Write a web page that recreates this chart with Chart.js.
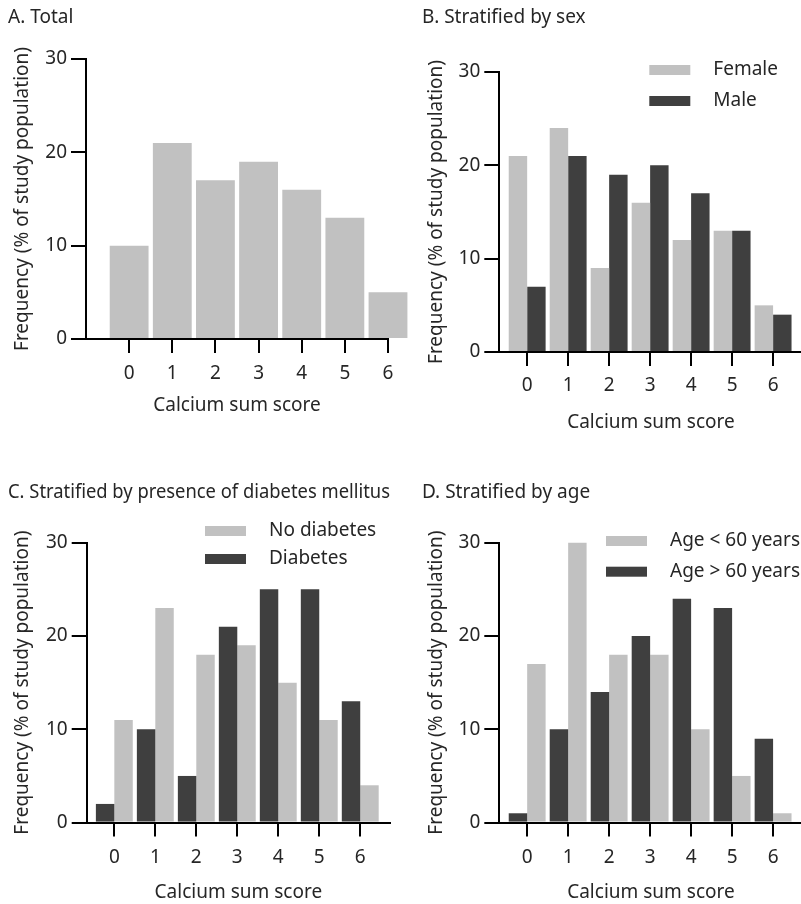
<!DOCTYPE html>
<html>
<head>
<meta charset="utf-8">
<script src="https://cdn.jsdelivr.net/npm/chart.js@4.4.1/dist/chart.umd.min.js"></script>
<style>
  html, body { margin: 0; padding: 0; background: #fff; overflow: hidden; }
  body { width: 801px; height: 904px; position: relative; }
  canvas { position: absolute; }
</style>
</head>
<body>
<canvas id="chartA" width="410" height="440" style="left:0;top:0"></canvas>
<canvas id="chartB" width="410" height="440" style="left:400px;top:0"></canvas>
<canvas id="chartC" width="410" height="434" style="left:0;top:470px"></canvas>
<canvas id="chartD" width="410" height="434" style="left:400px;top:470px"></canvas>
<script>
// calcium sum score categories and tick values
const scores = [0, 1, 2, 3, 4, 5, 6];
const yTicks = [0, 10, 20, 30];

// % of study population per score
const totalPct = [10, 21, 17, 19, 16, 13, 5];
const femalePct = [21, 24, 9, 16, 12, 13, 5];
const malePct = [7, 21, 19, 20, 17, 13, 4];
const noDiabetesPct = [11, 23, 18, 19, 15, 11, 4];
const diabetesPct = [2, 10, 5, 21, 25, 25, 13];
const under60Pct = [17, 30, 18, 18, 10, 5, 1];
const over60Pct = [1, 10, 14, 20, 24, 23, 9];

const LIGHT = '#c1c1c1';
const DARK = '#3f3f3f';
const INK = '#262626';
const FONT = "'Noto Sans', sans-serif";
const FS = 19;
const LH = FS * 1.2;

Chart.defaults.font.family = FONT;
Chart.defaults.font.size = FS;
Chart.defaults.color = INK;
Chart.defaults.animation = false;

// legend drawn inside the plot area (top right), like the original figure
const insideLegend = {
  id: 'insideLegend',
  afterDatasetsDraw(chart, args, opts) {
    if (!opts || !opts.order) return;
    const ctx = chart.ctx;
    const area = chart.chartArea;
    ctx.save();
    ctx.font = FS + 'px ' + FONT;
    ctx.textBaseline = 'middle';
    ctx.textAlign = 'left';
    opts.order.forEach((di, row) => {
      const ds = chart.data.datasets[di];
      const x = area.left + opts.x;
      const y = area.top + opts.y + row * opts.gap;
      ctx.fillStyle = ds.backgroundColor;
      ctx.fillRect(x, y - 5, 41, 10);
      ctx.fillStyle = INK;
      ctx.fillText(ds.label, x + 64, y);
    });
    ctx.restore();
  }
};

function makeChart(id, p, datasets, legend) {
  const tickPad = p.tickY - p.bottom - 14 - LH / 2 + 1;
  const titleTop = p.titleY - LH / 2 + 1;
  const xScaleH = p.axisTitleY + 1 + LH / 2 - p.bottom;

  return new Chart(document.getElementById(id), {
    type: 'bar',
    data: { labels: scores, datasets: datasets },
    plugins: legend ? [insideLegend] : [],
    options: {
      responsive: false,
      layout: {
        padding: { left: p.padL, top: 0, right: p.w - p.right, bottom: Math.max(0, p.h - p.bottom - xScaleH) }
      },
      datasets: {
        bar: { categoryPercentage: 0.9, barPercentage: 1, borderWidth: 0, clip: false }
      },
      plugins: {
        legend: { display: false },
        tooltip: { enabled: false },
        title: {
          display: true,
          text: p.title,
          align: 'start',
          color: INK,
          font: { size: FS, weight: 'normal' },
          padding: { top: titleTop, bottom: p.top - titleTop - LH }
        },
        insideLegend: legend || {}
      },
      scales: {
        x: {
          type: 'linear',
          min: p.xmin,
          max: p.xmax,
          offset: false,
          z: 1,
          afterBuildTicks: s => { s.ticks = scores.map(v => ({ value: v })); },
          afterFit: s => { s.height = xScaleH; },
          grid: { display: true, offset: false, drawOnChartArea: false, drawTicks: true, tickLength: 14, color: '#000', lineWidth: 2 },
          border: { display: true, color: '#000', width: 2 },
          ticks: { padding: tickPad, autoSkip: false, maxRotation: 0 },
          title: { display: true, text: 'Calcium sum score', padding: 0, color: INK }
        },
        y: {
          min: 0,
          max: 30,
          z: 1,
          afterBuildTicks: s => { s.ticks = yTicks.map(v => ({ value: v })); },
          afterFit: s => { s.width = p.left - p.padL; },
          grid: { display: true, drawOnChartArea: false, drawTicks: true, tickLength: 15, color: '#000', lineWidth: 2 },
          border: { display: true, color: '#000', width: 2 },
          ticks: { padding: 4 },
          title: { display: true, text: 'Frequency (% of study population)', padding: { top: 3, bottom: 0 }, color: INK }
        }
      }
    }
  });
}

makeChart('chartA',
  { title: 'A. Total', w: 410, h: 440, padL: 8, left: 86, top: 59, bottom: 339, right: 388,
    titleY: 17, tickY: 373, axisTitleY: 405, xmin: -1, xmax: 6 },
  [{ label: 'Total', data: totalPct, backgroundColor: LIGHT }]);

makeChart('chartB',
  { title: 'B. Stratified by sex', w: 410, h: 440, padL: 22, left: 99.3, top: 72, bottom: 352, right: 402.6,
    titleY: 17, tickY: 385, axisTitleY: 421.7, xmin: -0.68, xmax: 6.72 },
  [{ label: 'Female', data: femalePct, backgroundColor: LIGHT },
   { label: 'Male', data: malePct, backgroundColor: DARK }],
  { order: [0, 1], x: 150, y: -2, gap: 31 });

makeChart('chartC',
  { title: 'C. Stratified by presence of diabetes mellitus', w: 410, h: 434, padL: 8, left: 86.7, top: 72.7, bottom: 352.7, right: 390,
    titleY: 22, tickY: 386.7, axisTitleY: 421.7, xmin: -0.674, xmax: 6.726 },
  [{ label: 'Diabetes', data: diabetesPct, backgroundColor: DARK },
   { label: 'No diabetes', data: noDiabetesPct, backgroundColor: LIGHT }],
  { order: [1, 0], x: 118.3, y: -11.7, gap: 28 });

makeChart('chartD',
  { title: 'D. Stratified by age', w: 410, h: 434, padL: 22, left: 99.3, top: 72.7, bottom: 352.7, right: 402.6,
    titleY: 22, tickY: 386.7, axisTitleY: 421.7, xmin: -0.68, xmax: 6.72 },
  [{ label: 'Age > 60 years', data: over60Pct, backgroundColor: DARK },
   { label: 'Age < 60 years', data: under60Pct, backgroundColor: LIGHT }],
  { order: [1, 0], x: 106.7, y: -1.7, gap: 30.7 });
</script>
</body>
</html>
